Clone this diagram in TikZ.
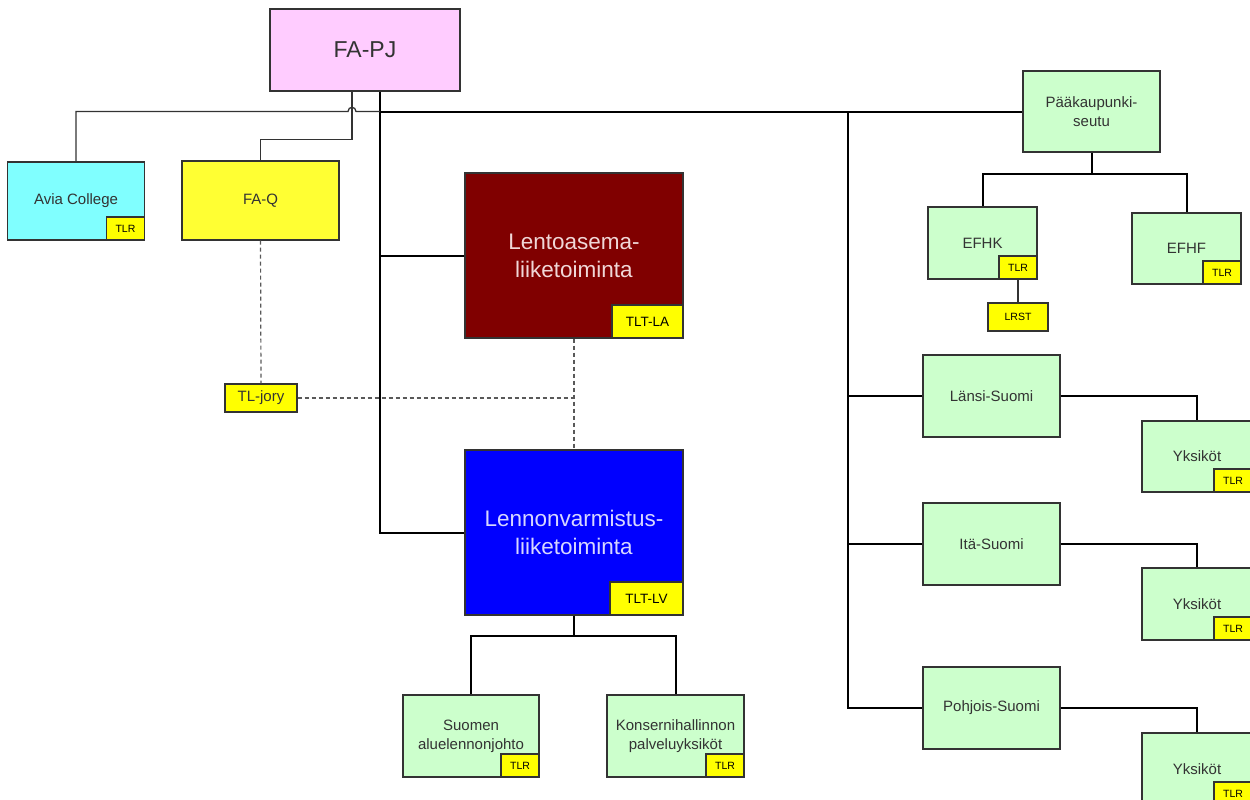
\documentclass[tikz,border=0pt]{standalone}
\usepackage{fontspec}
\setmainfont{Liberation Sans}
\usetikzlibrary{positioning}
\definecolor{pjpink}{HTML}{FFCCFF}
\definecolor{aviacyan}{HTML}{80FFFF}
\definecolor{tagyellow}{HTML}{FFFF00}
\definecolor{qyellow}{HTML}{FFFF33}
\definecolor{lagreen}{HTML}{CCFFCC}
\definecolor{lared}{HTML}{800000}
\definecolor{lvblue}{HTML}{0000FF}
\definecolor{inkgray}{HTML}{333333}

\begin{document}
\begin{tikzpicture}[x=1pt,y=-1pt,
    unitbox/.style={draw=inkgray, line width=1.3pt, inner sep=0pt, align=center, text=inkgray, font=\fontsize{15}{19}\selectfont},
    greenbox/.style={unitbox, fill=lagreen, minimum width=137pt, minimum height=82pt},
    bigbox/.style={unitbox, minimum width=218pt, minimum height=165pt, font=\fontsize{22.5}{28}\selectfont},
    tagbox/.style={draw=inkgray, line width=1.3pt, fill=tagyellow, inner sep=0pt, anchor=south east, minimum width=38pt, minimum height=23pt, font=\fontsize{10.5}{12}\selectfont},
    mainline/.style={line width=2pt},
    thinline/.style={line width=1.3pt, inkgray},
    jorylink/.style={line width=1.2pt, black!65, dash pattern=on 4pt off 3pt}]
    \clip (0,0) rectangle (1250,800);
    %Nodes
    \node[unitbox, fill=pjpink, minimum width=190pt, minimum height=82pt, font=\fontsize{23}{26}\selectfont] (fapj) at (365,50) {FA-PJ};
    \node[unitbox, fill=aviacyan, minimum width=137pt, minimum height=78pt] (avia) at (76,201) {Avia College};
    \node[tagbox] (aviaTag) at (avia.south east) {TLR};
    \node[unitbox, fill=qyellow, minimum width=157pt, minimum height=79pt] (faq) at (260.5,200.5) {FA-Q};
    \node[unitbox, fill=tagyellow, minimum width=72pt, minimum height=28pt] (jory) at (261,398) {TL-jory};
    \node[bigbox, fill=lared, text={rgb,255:red,240;green,215;blue,215}] (lento) at (574,255.5) {Lentoasema-\\liiketoiminta};
    \node[tagbox, minimum width=71pt, minimum height=33pt, font=\fontsize{13.5}{15}\selectfont] (lentoTag) at (lento.south east) {TLT-LA};
    \node[bigbox, fill=lvblue, text={rgb,255:red,215;green,215;blue,255}] (lenn) at (574,532.5) {Lennonvarmistus-\\liiketoiminta};
    \node[tagbox, minimum width=73pt, minimum height=33pt, font=\fontsize{13.5}{15}\selectfont] (lennTag) at (lenn.south east) {TLT-LV};
    \node[greenbox, minimum width=136pt] (suomen) at (471,736) {Suomen\\aluelennonjohto};
    \node[tagbox] (suomenTag) at (suomen.south east) {TLR};
    \node[greenbox] (konserni) at (675.5,736) {Konsernihallinnon\\palveluyksiköt};
    \node[tagbox] (konserniTag) at (konserni.south east) {TLR};
    \node[greenbox, minimum height=81pt] (paak) at (1091.5,111.5) {Pääkaupunki-\\seutu};
    \node[greenbox, minimum width=109pt, minimum height=72pt] (efhk) at (982.5,243) {EFHK};
    \node[tagbox] (efhkTag) at (efhk.south east) {TLR};
    \node[tagbox, anchor=center, minimum width=60pt, minimum height=28pt] (lrst) at (1018,317) {LRST};
    \node[greenbox, minimum width=109pt, minimum height=71pt] (efhf) at (1186.5,248.5) {EFHF};
    \node[tagbox] (efhfTag) at (efhf.south east) {TLR};
    \node[greenbox] (lansi) at (991.5,396) {Länsi-Suomi};
    \node[greenbox] (ita) at (991.5,544) {Itä-Suomi};
    \node[greenbox] (pohjois) at (991.5,708) {Pohjois-Suomi};
    \node[greenbox, minimum width=110pt, minimum height=71pt] (yksLansi) at (1197,456.5) {Yksiköt};
    \node[tagbox] (yksLansiTag) at (yksLansi.south east) {TLR};
    \node[greenbox, minimum width=110pt, minimum height=72pt] (yksIta) at (1197,604) {Yksiköt};
    \node[tagbox] (yksItaTag) at (yksIta.south east) {TLR};
    \node[greenbox, minimum width=110pt, minimum height=72pt] (yksPohjois) at (1197,769) {Yksiköt};
    \node[tagbox] (yksPohjoisTag) at (yksPohjois.south east) {TLR};
    %Coordinates
    \coordinate (trunk) at ([xshift=15pt]fapj.south);
    \coordinate (qdrop) at ([xshift=-13pt]fapj.south);
    \coordinate (bus) at (trunk |- paak.west);
    \coordinate (spine) at (848,111.5);
    %Lines
    \draw[mainline] (trunk) -- (trunk |- lenn.west) -- (lenn.west);
    \draw[mainline] (lento.west) -- (lento.west -| trunk);
    \draw[mainline] (bus) -- (paak.west);
    \draw[thinline] (avia.north) |- (348,111.5) .. controls (348,106) and (356,106) .. (356,111.5) -- (bus);
    \draw[thinline] (faq.north) -- ++(0,-21) -| (qdrop);
    \draw[mainline] (spine) -- (spine |- pohjois.west) -- (pohjois.west);
    \draw[mainline] (lansi.west) -- (lansi.west -| spine);
    \draw[mainline] (ita.west) -- (ita.west -| spine);
    \draw[mainline] (lansi.east) -| (yksLansi.north);
    \draw[mainline] (ita.east) -| (yksIta.north);
    \draw[mainline] (pohjois.east) -| (yksPohjois.north);
    \draw[mainline] (paak.south) -- ++(0,21) coordinate (pfork);
    \draw[mainline] (efhk.north) |- (pfork) -| (efhf.north);
    \draw[thinline] (efhkTag.south) -- (lrst.north);
    \draw[mainline] (lenn.south) -- ++(0,20) coordinate (lfork);
    \draw[mainline] (suomen.north) |- (lfork) -| (konserni.north);
    \draw[jorylink] (faq.south) -- (jory.north);
    \draw[jorylink] (lento.south) -- (lenn.north);
    \draw[jorylink] (jory.east) -- (jory.east -| lento.south);
\end{tikzpicture}
\end{document}
